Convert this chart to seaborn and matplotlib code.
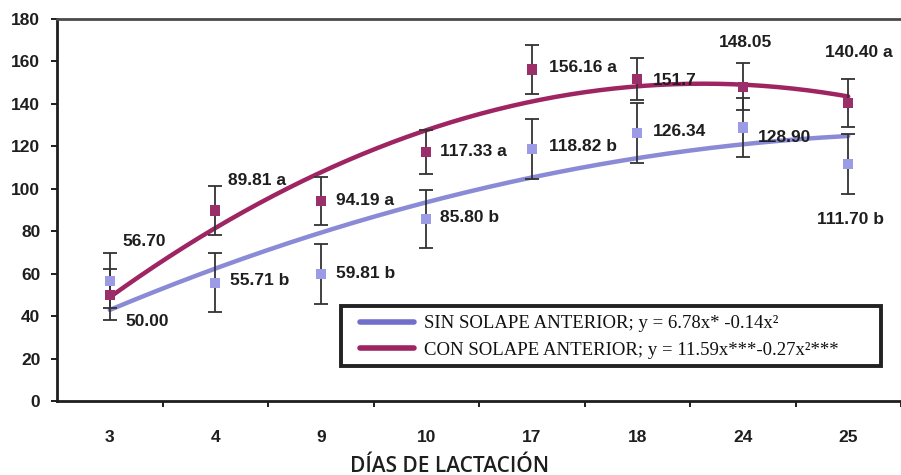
import numpy as np
import pandas as pd
import matplotlib
matplotlib.use("Agg")
import matplotlib.pyplot as plt
import seaborn as sns
from matplotlib.lines import Line2D
from matplotlib.patches import Rectangle

# ---- data -------------------------------------------------------------
days = ["3", "4", "9", "10", "17", "18", "24", "25"]
sin_mean = [56.70, 55.71, 59.81, 85.80, 118.82, 126.34, 128.90, 111.70]
con_mean = [50.00, 89.81, 94.19, 117.33, 156.16, 151.70, 148.05, 140.40]
sin_err = [13.0, 13.9, 14.0, 13.6, 14.0, 14.0, 14.0, 14.3]
con_err = [12.0, 11.6, 11.4, 10.3, 11.4, 10.0, 11.0, 11.3]
sin_labels = ["56.70", "55.71 b", "59.81 b", "85.80 b", "118.82 b", "126.34", "128.90", "111.70 b"]
con_labels = ["50.00", "89.81 a", "94.19 a", "117.33 a", "156.16 a", "151.7", "148.05", "140.40 a"]
legend_sin = "SIN SOLAPE ANTERIOR; y = 6.78x* -0.14x²"
legend_con = "CON SOLAPE ANTERIOR; y = 11.59x***-0.27x²***"
y_ticks = [0, 20, 40, 60, 80, 100, 120, 140, 160, 180]

# label offsets (pixels) from each marker
sin_dx = [13, 15, 15, 14, 17, 16, 15, -31]
sin_dy = [39, 2, 1, 1, 2, 1, -10, -56]
con_dx = [16, 13, 15, 14, 17, 16, -24, -23]
con_dy = [-27, 30, 1, 0, 2, -1, 44, 51]

SIN_LINE = "#8A8AD6"
SIN_MARK = "#9C9CE6"
CON_LINE = "#9E2462"
CON_MARK = "#9B2F6A"
INK = "#1E1E1E"

sns.set_theme(style="white")
plt.rcParams["font.family"] = ["Liberation Sans", "DejaVu Sans"]

fig = plt.figure(figsize=(9.01, 4.75), dpi=100)
W, H = 901, 475
ax = fig.add_axes([57 / W, 1 - 401 / H, (W - 57) / W, (401 - 19) / H])

pos = np.arange(len(days))
df = pd.DataFrame({"pos": pos, "day": days, "sin": sin_mean, "con": con_mean,
                   "sin_err": sin_err, "con_err": con_err})

# quadratic trend lines fitted on the category index
grid = np.linspace(0, len(days) - 1, 200)
trend = pd.DataFrame({"pos": grid,
                      "sin": np.polyval(np.polyfit(pos + 1, sin_mean, 2), grid + 1),
                      "con": np.polyval(np.polyfit(pos + 1, con_mean, 2), grid + 1)})
sns.lineplot(data=trend, x="pos", y="sin", ax=ax, color=SIN_LINE, lw=3.2, zorder=2)
sns.lineplot(data=trend, x="pos", y="con", ax=ax, color=CON_LINE, lw=3.2, zorder=2)

# error bars and markers
for col, ecol in (("sin", "sin_err"), ("con", "con_err")):
    ax.errorbar(df["pos"], df[col], yerr=df[ecol], fmt="none", ecolor="#333333",
                elinewidth=1.3, capsize=5, capthick=1.3, zorder=3)
sns.scatterplot(data=df, x="pos", y="sin", ax=ax, marker="s", s=55,
                color=SIN_MARK, edgecolor="none", zorder=4)
sns.scatterplot(data=df, x="pos", y="con", ax=ax, marker="s", s=55,
                color=CON_MARK, edgecolor="none", zorder=4)

# value labels
for series, labels, dxs, dys in ((sin_mean, sin_labels, sin_dx, sin_dy),
                                 (con_mean, con_labels, con_dx, con_dy)):
    for p, v, lab, dx, dy in zip(pos, series, labels, dxs, dys):
        ax.annotate(lab, (p, v), xytext=(dx, dy), textcoords="offset pixels",
                    ha="left", va="center", fontsize=12.5, fontweight="bold",
                    color=INK, zorder=5, annotation_clip=False)

# axes styling
ax.set_xlim(-0.5, (W - 57) / 106.3 - 0.5)
ax.set_ylim(0, 180)
ax.set_yticks(y_ticks)
ax.set_yticklabels([str(t) for t in y_ticks])
ax.set_xticks(pos)
ax.set_xticklabels(days)
ax.set_xticks(np.arange(0.5, len(days) - 0.5 + 0.01, 1.0), minor=True)
ax.tick_params(axis="x", which="major", length=0, pad=21, labelsize=12.5, labelcolor=INK)
ax.tick_params(axis="x", which="minor", length=4, width=1.4, color=INK, direction="out",
               bottom=True)
ax.tick_params(axis="y", length=4, width=1.4, color=INK, direction="out", left=True,
               pad=8, labelsize=12.5, labelcolor=INK)
for lab in ax.get_xticklabels() + ax.get_yticklabels():
    lab.set_fontweight("bold")
ax.set_xlabel("")
ax.set_ylabel("")
ax.spines["left"].set_color(INK)
ax.spines["left"].set_linewidth(2)
ax.spines["bottom"].set_color(INK)
ax.spines["bottom"].set_linewidth(2)
ax.spines["top"].set_color("#4A4A4A")
ax.spines["top"].set_linewidth(2)
ax.spines["right"].set_visible(False)
ax.grid(False)

fig.text(450 / W, 1 - 466 / H, "DÍAS DE LACTACIÓN", ha="center", va="center",
         fontsize=15, fontweight="semibold", family=["Open Sans", "DejaVu Sans"],
         color=INK)

# legend: entries without frame, box drawn as a separate rectangle
handles = [Line2D([], [], color="#7070CC", lw=4),
           Line2D([], [], color=CON_LINE, lw=4)]
leg = fig.legend(handles, [legend_sin, legend_con], loc="center left",
                 bbox_to_anchor=(360 / W, 1 - 337 / H),
                 prop={"family": ["Liberation Serif", "DejaVu Serif"], "size": 13.5},
                 frameon=False, handlelength=2.9, handletextpad=0.5, borderpad=0,
                 labelspacing=0.5, borderaxespad=0)
leg.set_zorder(7)
for t in leg.get_texts():
    t.set_color("#111111")
fig.patches.append(Rectangle((341 / W, 1 - 366 / H), (881 - 341) / W, 60 / H,
                             transform=fig.transFigure, facecolor="white",
                             edgecolor="#222222", linewidth=2.8, zorder=6))

fig.savefig("out.png", dpi=100, facecolor="white")
